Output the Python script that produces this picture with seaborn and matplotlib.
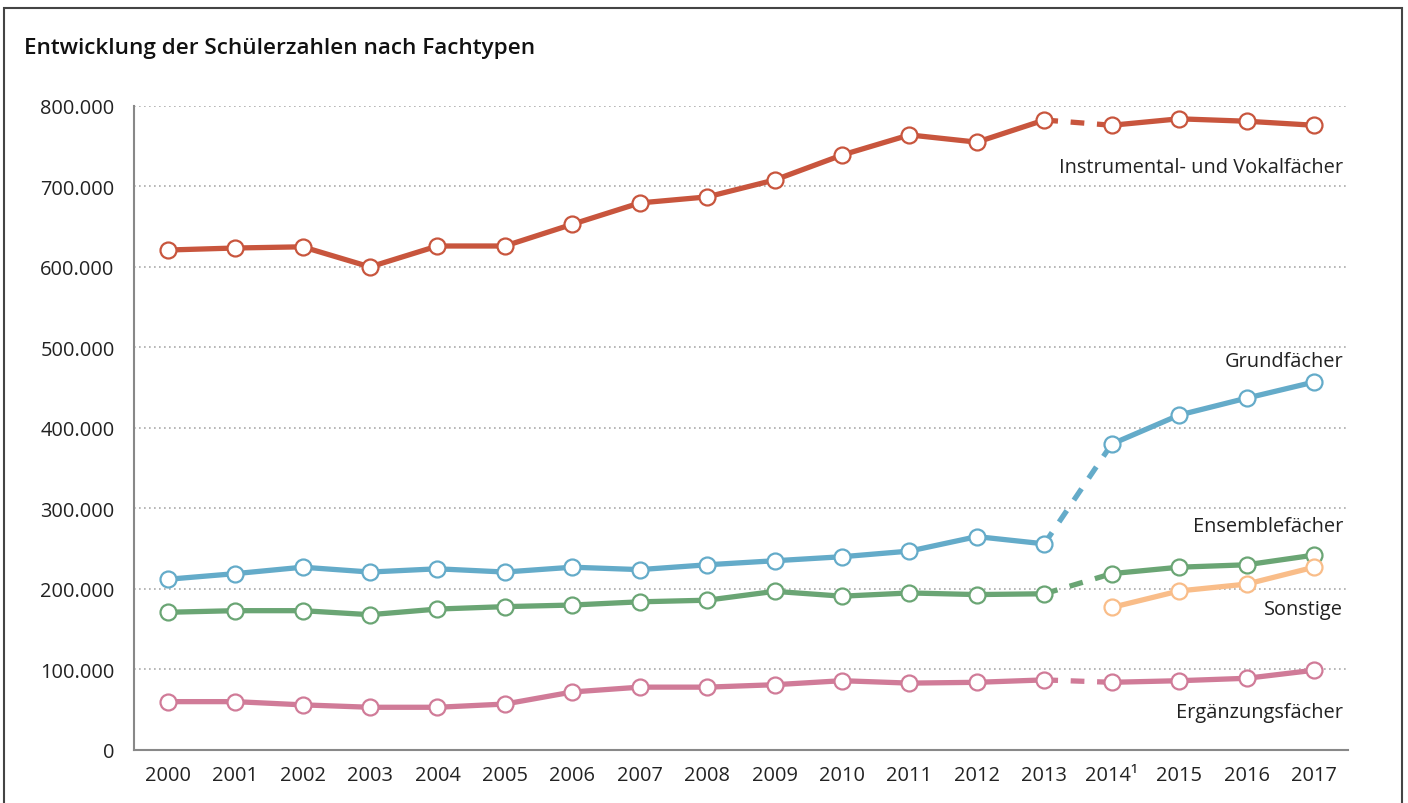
import seaborn as sns
import matplotlib.pyplot as plt
import matplotlib.patches as mpatches
import pandas as pd

# data
years = ['2000', '2001', '2002', '2003', '2004', '2005', '2006', '2007', '2008',
         '2009', '2010', '2011', '2012', '2013', '2014\u00b9', '2015', '2016', '2017']
instrumental = [621000, 623500, 625000, 600000, 626000, 626000, 653000, 679500, 687000,
                708000, 739000, 764000, 755000, 782500, 776000, 784000, 781000, 776000]
grund = [212000, 219000, 227000, 221000, 225000, 221000, 227000, 224000, 230000,
         235000, 240000, 247000, 265000, 256000, 380000, 416000, 437000, 457000]
ensemble = [171000, 173000, 173000, 168000, 175000, 178000, 180000, 184000, 186000,
            197000, 191000, 195000, 193000, 194000, 219000, 227000, 230000, 242000]
sonstige = [None] * 14 + [177000, 197500, 206000, 227000]
ergaenzung = [60000, 60000, 56000, 53000, 53000, 57000, 72000, 78000, 78000,
              81000, 86000, 83000, 84000, 87000, 84000, 86000, 89000, 99000]

series = [
    ('Instrumental- und Vokalfächer', instrumental, '#c8553d', 724000),
    ('Grundfächer', grund, '#64abc9', 483000),
    ('Ensemblefächer', ensemble, '#6aa574', 278000),
    ('Sonstige', sonstige, '#f9bd89', 175000),
    ('Ergänzungsfächer', ergaenzung, '#d07b98', 47000),
]
brk = 13  # break in the series between 2013 and 2014

sns.set_style('white')
plt.rcParams['font.family'] = ['Open Sans', 'DejaVu Sans']

fig = plt.figure(figsize=(14.08, 8.04), dpi=100)
ax = fig.add_axes([0.0952, 0.066, 0.862, 0.801])

for name, vals, color, ylab in series:
    df = pd.DataFrame({'x': range(len(years)), 'y': vals}).dropna()
    first = df[df['x'] <= brk]
    second = df[df['x'] > brk]
    link = df[(df['x'] == brk) | (df['x'] == brk + 1)]
    kw = dict(color=color, linewidth=3.8, ax=ax, legend=False, zorder=3)
    if len(first):
        sns.lineplot(data=first, x='x', y='y', **kw)
    if len(link) == 2:
        sns.lineplot(data=link, x='x', y='y', linestyle=(0, (2.6, 2.4)), **kw)
    sns.lineplot(data=second, x='x', y='y', **kw)
    ax.plot(df['x'], df['y'], linestyle='none', marker='o', markersize=11.5,
            markerfacecolor='white', markeredgecolor=color, markeredgewidth=1.6,
            zorder=4, clip_on=False)
    ax.text(17.43, ylab, name, ha='right', va='center', fontsize=14.4, color='#222222')

ax.set_xlim(-0.5, len(years) - 0.5)
ax.set_ylim(0, 800000)
ax.set_yticks(range(0, 800001, 100000))
ax.set_yticklabels(['0'] + [f'{v // 1000}.000' for v in range(100000, 800001, 100000)])
ax.set_xticks(range(len(years)))
ax.set_xticklabels(years)
ax.set_xticks([i - 0.5 for i in range(len(years) + 1)], minor=True)
ax.tick_params(axis='x', which='major', length=0, pad=11, labelsize=14.4, labelcolor='#222222')
ax.tick_params(axis='x', which='minor', length=6, width=1.5, color='#888888', direction='out')
ax.tick_params(axis='y', length=8, width=1.5, color='#888888', labelsize=14.4,
               labelcolor='#222222', pad=6)
ax.set_xlabel('')
ax.set_ylabel('')

ax.grid(axis='y', linestyle=(0, (1, 2)), color='#aaaaaa', linewidth=1.2)
ax.set_axisbelow(True)
for s in ['top', 'right']:
    ax.spines[s].set_visible(False)
for s in ['left', 'bottom']:
    ax.spines[s].set_color('#888888')
    ax.spines[s].set_linewidth(1.5)

fig.text(0.017, 0.94, 'Entwicklung der Schülerzahlen nach Fachtypen', fontsize=16.2,
         fontweight='semibold', color='#111111', va='center')

frame = mpatches.Rectangle((0.0025, -0.05), 0.9935, 1.039, transform=fig.transFigure,
                           fill=False, edgecolor='#444444', linewidth=1.5)
fig.patches.append(frame)

fig.savefig('out.png', dpi=100)
